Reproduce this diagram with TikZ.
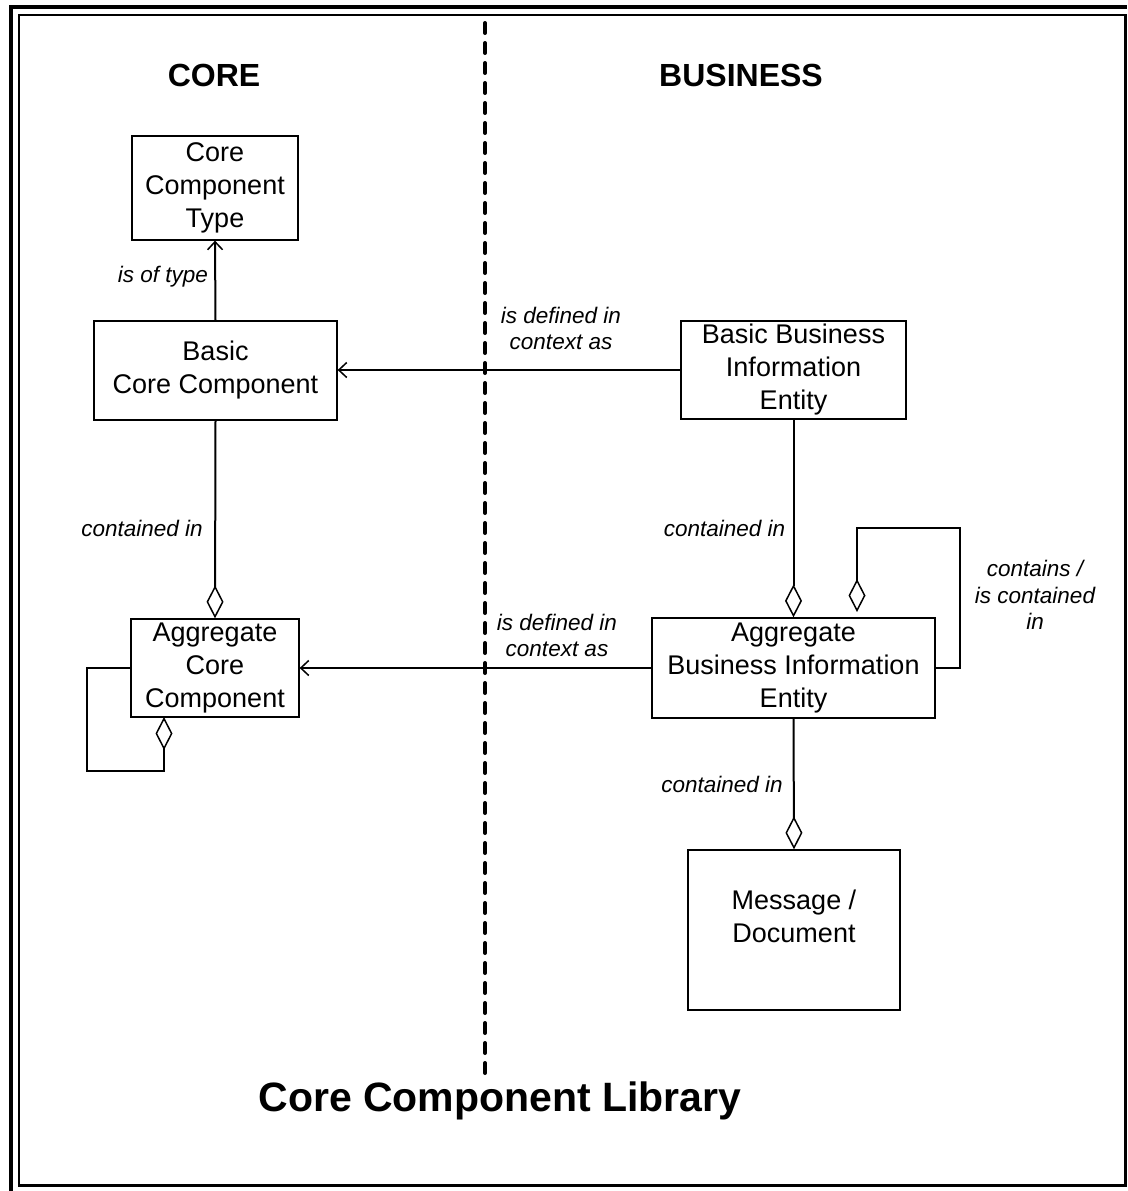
\documentclass[tikz,border=0pt]{standalone}
\usepackage{fontspec}
\setmainfont{Liberation Sans}
\usetikzlibrary{arrows.meta}
\begin{document}
\begin{tikzpicture}[x=1pt,y=-1pt,
  box/.style={draw, line width=1.3pt, inner sep=0pt, align=center, font=\fontsize{27}{33}\selectfont},
  boxtext/.style={inner sep=0pt, align=center, font=\fontsize{27}{33}\selectfont},
  lbl/.style={inner sep=0pt, align=center, font=\itshape\fontsize{22.5}{26.5}\selectfont},
  conn/.style={line width=2pt},
  dia/.style={conn, -{Diamond[open, length=33pt, width=17pt, line width=1.5pt]}},
  arr/.style={conn, -{Straight Barb[length=8pt, width=15pt, line width=1.5pt]}},
  hdr/.style={inner sep=0pt, font=\bfseries\fontsize{32}{38}\selectfont},
  divider/.style={line width=4pt, dash pattern=on 10pt off 10pt, line cap=round}
]
\useasboundingbox (0,0) rectangle (1127,1191);
% frame
\draw[line width=4pt] (11,1191) -- (11,6.5) -- (1127,6.5);
\draw[line width=2pt] (1125,1185.5) -- (19,1185.5) -- (19,15) -- (1125,15);
\draw[line width=3pt] (1125,14) -- (1125,1187);
\draw[line width=3pt] (18,1185.5) -- (1126.5,1185.5);
% divider
\coordinate (dtop) at (485,23);
\coordinate (dbot) at (485,1081);
\draw[divider] (dtop) -- (dbot);
% headers
\node[hdr] (core) at (214,75) {CORE};
\node[hdr] (bus) at (741,75) {BUSINESS};
% boxes
\node[box, minimum width=166pt, minimum height=104pt] (cct) at (215,188) {Core\\Component\\Type};
\node[box, minimum width=243pt, minimum height=99pt] (bcc) at (215.5,370.5) {Basic\\Core Component};
\node[box, minimum width=225pt, minimum height=98pt] (bbie) at (793.5,370) {Basic Business\\Information\\Entity};
\node[box, minimum width=168pt, minimum height=98pt] (acc) at (215,668) {Aggregate\\Core\\Component};
\node[box, minimum width=283pt, minimum height=100pt] (abie) at (793.5,668) {Aggregate\\Business Information\\Entity};
\node[box, minimum width=212pt, minimum height=160pt] (msg) at (794,930) {};
\node[boxtext] (msgtxt) at (794,916) {Message /\\Document};
% connectors
\draw[arr] (bcc.north) -- (cct.south);
\draw[arr] (bbie.west) -- (bcc.east |- bbie.west);
\draw[dia] (bcc.south) -- (acc.north);
\draw[dia] (bbie.south) -- (abie.north);
\draw[arr] (abie.west) -- (acc.east |- abie.west);
\draw[dia] (abie.south) -- (msg.north);
% self loops
\coordinate (accL) at (87,668);
\coordinate (accBL) at (87,771);
\coordinate (accBR) at (164,771);
\coordinate (accEnd) at (164,717);
\draw[dia] (acc.west) -- (accL) -- (accBL) -- (accBR) -- (accEnd);
\coordinate (abieR) at (960,668);
\coordinate (abieTR) at (960,528);
\coordinate (abieTL) at (857,528);
\coordinate (abieEnd) at (857,612);
\draw[dia] (abie.east) -- (abieR) -- (abieTR) -- (abieTL) -- (abieEnd);
% labels
\node[lbl] (l1) at (163,277) {is of type};
\node[lbl] (l2) at (561,328.5) {is defined in\\context as};
\node[lbl] (l3) at (142,528) {contained in};
\node[lbl] (l4) at (724.5,528) {contained in};
\node[lbl] (l5) at (557,635.5) {is defined in\\context as};
\node[lbl] (l6) at (1035,595) {contains /\\is contained\\in};
\node[lbl] (l7) at (722,784) {contained in};
% title
\node[inner sep=0pt, font=\bfseries\fontsize{41}{48}\selectfont] (title) at (500,1101) {Core Component Library};
\end{tikzpicture}
\end{document}
